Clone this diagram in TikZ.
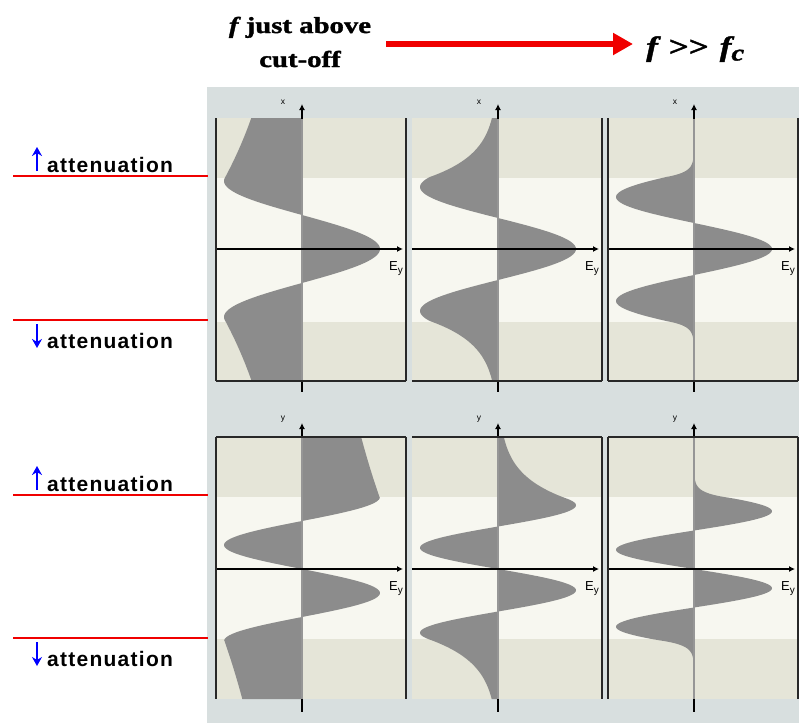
\documentclass[tikz,border=0pt]{standalone}
\usepackage{fontspec}
\setmainfont{Liberation Sans}
\newfontfamily\headfont[FakeStretch=1.25,FakeBold=1.5]{Liberation Serif}
\newfontfamily\attfont[LetterSpace=6]{Liberation Sans}
\usetikzlibrary{arrows.meta}
\definecolor{bggray}{RGB}{216,223,223}
\definecolor{banddark}{RGB}{229,229,216}
\definecolor{bandlight}{RGB}{247,247,240}
\definecolor{curvegray}{RGB}{140,140,140}
\definecolor{axisgray}{RGB}{150,150,150}
\definecolor{borderc}{RGB}{40,40,40}
\definecolor{redline}{RGB}{240,0,0}
\definecolor{bluearrow}{RGB}{0,0,255}
\tikzset{
  declare function={
    evenf(\u,\q,\a,\w)=78*cos(\q*max(min(\u,\a),-\a))*exp(-\w*max(abs(\u)-\a,0));
    oddf(\u,\q,\a,\w)=-78*sin(\q*max(min(\u,\a),-\a))*exp(-\w*max(abs(\u)-\a,0));
  },
  border/.style={draw=borderc, line width=1.5pt},
  haxis/.style={draw=black, line width=1.4pt, -{Latex[length=6pt,width=6pt]}},
  vaxisin/.style={draw=axisgray, line width=1.3pt},
  vaxisout/.style={draw=black, line width=1.4pt},
  eylabel/.style={anchor=north east, inner sep=0pt, font=\fontsize{13}{13}\selectfont},
  axlabel/.style={inner sep=0pt, font=\fontsize{8.5}{8.5}\selectfont},
  redrule/.style={draw=redline, line width=2.6pt},
  attlabel/.style={anchor=base west, inner sep=0pt, font=\attfont\bfseries\fontsize{21}{21}\selectfont},
  attarrow/.style={draw=bluearrow, line width=2pt, -{Stealth[length=9pt,width=10pt]}},
  headtext/.style={anchor=base, inner sep=0pt, font=\headfont\bfseries\fontsize{23}{23}\selectfont},
}
\begin{document}
\begin{tikzpicture}[x=1pt,y=-1pt]
\useasboundingbox (0,0) rectangle (799,723);
\fill[white] (0,0) rectangle (799,723);
\fill[bggray] (207,87) rectangle (799,723);

% ---------- header ----------
\node[headtext] (h1) at (300,33) {{\itshape f} just above};
\node[headtext] (h2) at (300,67) {cut-off};
\node[headtext, anchor=base west, font=\headfont\bfseries\fontsize{28}{28}\selectfont] (h3) at (646,56) {{\itshape f}\hspace{11pt}{>>}\hspace{11pt}{\itshape f}\raisebox{-0.35ex}{\fontsize{23}{23}\selectfont\itshape c}};
\coordinate (arS) at (386,44);
\coordinate (arE) at (633,44);
\draw[draw=redline, line width=6pt, -{Triangle[length=20pt,width=21pt]}] (arS) -- (arE);

% ---------- top row (even mode) ----------
\foreach \px/\kk/\gg/\lb in {216/2.647/0.007/1, 412/2.903/0.041/0, 608/3.46/0.2/1} {
  \pgfmathsetmacro\ax{\px+86}
  \pgfmathsetmacro\rx{\px+190}
  \fill[banddark] (\px,118) rectangle (\rx,381);
  \fill[bandlight] (\px,178) rectangle (\rx,322);
  \fill[curvegray] (\ax,118) -- plot[domain=118:381,samples=264,variable=\t] ({\ax+evenf(249-\t,\kk,72,\gg)},\t) -- (\ax,381) -- cycle;
  \draw[vaxisin] (\ax,118) -- (\ax,381);
  \draw[vaxisout] (\ax,381) -- (\ax,392);
  \draw[vaxisout, -{Latex[length=6pt,width=6pt]}] (\ax,118.5) -- (\ax,104);
  \draw[haxis] (\px,249) -- (\rx-3,249);
  \node[eylabel] at (\rx-3,261) {E\raisebox{-0.45ex}{\fontsize{10}{10}\selectfont y}};
  \node[axlabel] at (\ax-19,102) {x};
  \draw[border] (\px,381) -- (\rx,381);
  \draw[border] (\rx,118) -- (\rx,381);
  \ifnum\lb=1 \draw[border] (\px,118) -- (\px,381); \fi
}

% ---------- bottom row (odd mode) ----------
\foreach \px/\kk/\gg/\lb in {216/3.75/0.0045/1, 412/4.235/0.04/0, 608/4.675/0.2/1} {
  \pgfmathsetmacro\ax{\px+86}
  \pgfmathsetmacro\rx{\px+190}
  \fill[banddark] (\px,437) rectangle (\rx,699);
  \fill[bandlight] (\px,497) rectangle (\rx,639);
  \fill[curvegray] (\ax,437) -- plot[domain=437:699,samples=264,variable=\t] ({\ax+oddf(569-\t,\kk,71,\gg)},\t) -- (\ax,699) -- cycle;
  \draw[vaxisin] (\ax,437) -- (\ax,699);
  \draw[vaxisout] (\ax,699) -- (\ax,712);
  \draw[vaxisout, -{Latex[length=6pt,width=6pt]}] (\ax,437.5) -- (\ax,423);
  \draw[haxis] (\px,569) -- (\rx-3,569);
  \node[eylabel] at (\rx-3,581) {E\raisebox{-0.45ex}{\fontsize{10}{10}\selectfont y}};
  \node[axlabel] at (\ax-19,419) {y};
  \draw[border] (\px,437) -- (\rx,437);
  \draw[border] (\rx,437) -- (\rx,699);
  \ifnum\lb=1 \draw[border] (\px,437) -- (\px,699); \fi
}

% ---------- left labels ----------
\foreach \ya/\yb/\n in {176/320/1, 495/638/2} {
  \coordinate (rl\n a) at (13,\ya);
  \coordinate (rr\n a) at (208,\ya);
  \coordinate (rl\n b) at (13,\yb);
  \coordinate (rr\n b) at (208,\yb);
  \draw[redrule] (rl\n a) -- (rr\n a);
  \draw[redrule] (rl\n b) -- (rr\n b);
  \node[attlabel] (up\n) at (47,\ya-4) {attenuation};
  \node[attlabel] (dn\n) at (47,\yb+28) {attenuation};
  \coordinate (ua\n) at (37,\ya-5);
  \coordinate (ub\n) at (37,\ya-29);
  \coordinate (da\n) at (37,\yb+4);
  \coordinate (db\n) at (37,\yb+28);
  \draw[attarrow] (ua\n) -- (ub\n);
  \draw[attarrow] (da\n) -- (db\n);
}
\end{tikzpicture}
\end{document}
